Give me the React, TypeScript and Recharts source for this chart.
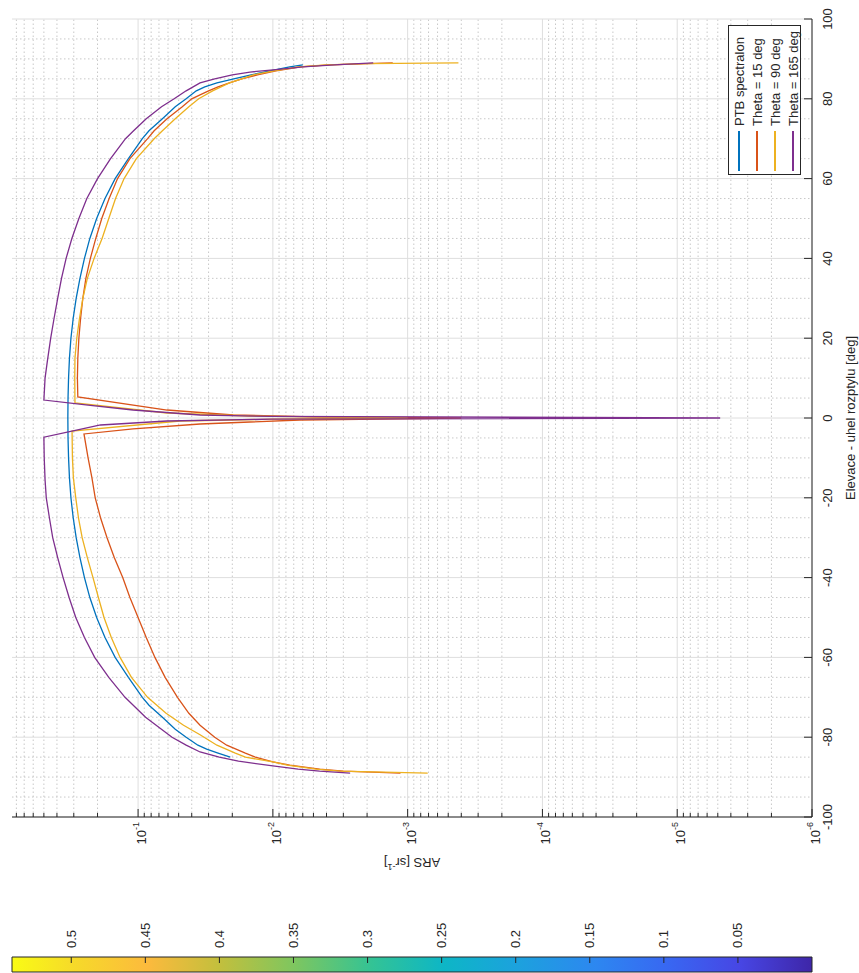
import React from 'react'
import {
  LineChart, Line, XAxis, YAxis, CartesianGrid, Legend, Label,
  ComposedChart, ReferenceArea,
} from 'recharts'

// elevation angle [deg] / ARS [1/sr] for every measured curve
const ptbAngles = [-85, -84, -83, -82, -80, -78, -75, -72, -70, -65, -60, -55, -50, -45, -40, -35, -30, -25, -20, -15, -10, -5, 0, 5, 10, 15, 20, 25, 30, 35, 40, 45, 50, 55, 60, 65, 70, 72, 75, 78, 80, 82, 83, 84, 85, 86, 87, 88, 88.5]
const ptbArs = [0.0207, 0.0255, 0.031, 0.036, 0.044, 0.053, 0.066, 0.083, 0.093, 0.118, 0.148, 0.176, 0.203, 0.228, 0.25, 0.27, 0.288, 0.303, 0.315, 0.323, 0.328, 0.331, 0.332, 0.331, 0.328, 0.323, 0.315, 0.303, 0.288, 0.27, 0.25, 0.228, 0.203, 0.176, 0.148, 0.118, 0.093, 0.083, 0.066, 0.053, 0.044, 0.037, 0.032, 0.026, 0.0195, 0.0145, 0.0105, 0.0075, 0.006]

const theta15Angles = [-89, -88.5, -88, -87, -86.2, -85, -84, -82, -80, -77, -74, -70, -65, -60, -55, -50, -45, -40, -35, -30, -25, -20, -15, -10, -4, -2.75, -1.5, -0.5, 0, 0.3, 0.75, 2, 5.3, 10, 15, 20, 25, 30, 35, 40, 45, 50, 55, 60, 65, 70, 72, 75, 78, 80, 81, 82, 83, 84, 85, 86, 87, 88, 88.5, 88.8, 89]
const theta15Ars = [0.00113, 0.003, 0.0045, 0.0075, 0.01, 0.0135, 0.016, 0.022, 0.027, 0.0347, 0.042, 0.051, 0.063, 0.075, 0.087, 0.1, 0.115, 0.13, 0.15, 0.17, 0.19, 0.208, 0.22, 0.235, 0.252, 0.109, 0.0347, 0.0063, 0.0004, 0.005, 0.0197, 0.061, 0.28, 0.282, 0.28, 0.275, 0.267, 0.257, 0.244, 0.226, 0.206, 0.186, 0.164, 0.142, 0.115, 0.085, 0.076, 0.061, 0.047, 0.04, 0.0347, 0.03, 0.0255, 0.021, 0.017, 0.013, 0.0095, 0.0062, 0.0038, 0.002, 0.00129]

const theta90Angles = [-89, -88.5, -88, -87, -86.2, -85, -84, -82, -79.4, -77, -74, -70, -65, -60, -55, -50, -45, -40, -35, -30, -25, -20, -15, -10, -3.3, -0.75, -0.3, 0, 0.5, 1.25, 3.8, 10, 15, 20, 25, 30, 35, 40, 45, 50, 55, 60, 65, 70, 72, 75, 78, 80, 82, 84, 85, 86, 87, 88, 88.5, 88.8, 89]
const theta90Ars = [0.00071, 0.0032, 0.0048, 0.0078, 0.01, 0.016, 0.019, 0.026, 0.0347, 0.046, 0.062, 0.085, 0.112, 0.136, 0.158, 0.179, 0.197, 0.216, 0.238, 0.26, 0.277, 0.29, 0.302, 0.307, 0.309, 0.049, 0.01, 0.001, 0.015, 0.061, 0.294, 0.295, 0.294, 0.285, 0.272, 0.257, 0.238, 0.212, 0.185, 0.165, 0.147, 0.127, 0.103, 0.076, 0.066, 0.053, 0.042, 0.0355, 0.028, 0.021, 0.017, 0.014, 0.0098, 0.0065, 0.004, 0.002, 0.00042]

const theta165Angles = [-89, -88.5, -88, -87.2, -86, -85, -83.7, -82, -80, -75, -70, -65, -60, -55, -50, -45, -40, -35, -30, -25, -20, -15.5, -10, -4.8, -3.3, -1.75, -0.75, -0.3, 0, 0.4, 0.75, 2, 3.25, 4.5, 10, 14.5, 20, 25, 30, 35, 40, 45, 50, 55, 60, 65, 70, 72, 75, 78, 80, 82, 84, 85, 86, 86.7, 87.3, 88, 88.5, 89]
const theta165Ars = [0.00267, 0.0045, 0.0065, 0.01, 0.018, 0.025, 0.0347, 0.044, 0.056, 0.088, 0.125, 0.165, 0.21, 0.25, 0.29, 0.325, 0.36, 0.395, 0.43, 0.455, 0.48, 0.49, 0.497, 0.5, 0.31, 0.19, 0.061, 0.0105, 0.0000048, 0.0105, 0.0347, 0.109, 0.235, 0.5, 0.49, 0.47, 0.445, 0.42, 0.395, 0.37, 0.342, 0.31, 0.275, 0.24, 0.2, 0.16, 0.124, 0.108, 0.087, 0.067, 0.054, 0.044, 0.0347, 0.027, 0.02, 0.0148, 0.0095, 0.006, 0.0035, 0.0018]

// axis ticks
const angleTicks = [-100, -80, -60, -40, -20, 0, 20, 40, 60, 80, 100]
const arsDecades = [1e-6, 1e-5, 1e-4, 1e-3, 1e-2, 1e-1]
const colorbarTicks = [0.05, 0.1, 0.15, 0.2, 0.25, 0.3, 0.35, 0.4, 0.45, 0.5]

const ARS_MAX = 0.862
const angleMinor: number[] = []
for (let a = -95; a <= 95; a += 5) if (a % 20 !== 0) angleMinor.push(a)
const arsMinor = arsDecades
  .flatMap(d => [2, 3, 4, 5, 6, 7, 8, 9].map(m => m * d))
  .filter(v => v < ARS_MAX)
const arsTicks = [...arsDecades, ...arsMinor].sort((a, b) => a - b)

const series = [
  { key: 'ptb', name: 'PTB spectralon', color: '#0072BD', angles: ptbAngles, ars: ptbArs },
  { key: 't15', name: 'Theta = 15 deg', color: '#D95319', angles: theta15Angles, ars: theta15Ars },
  { key: 't90', name: 'Theta = 90 deg', color: '#EDB120', angles: theta90Angles, ars: theta90Ars },
  { key: 't165', name: 'Theta = 165 deg', color: '#7E2F8E', angles: theta165Angles, ars: theta165Ars },
]

// parula colour map, low (0) to high (1)
const parulaStops: [number, string][] = [
  [0, '#3E26A8'], [0.09, '#4746E4'], [0.18, '#3867F2'], [0.27, '#2D87F0'],
  [0.37, '#1CA2DD'], [0.46, '#0DB6C6'], [0.55, '#33C395'], [0.65, '#80C65E'],
  [0.74, '#C2BF3D'], [0.83, '#FCBA3D'], [0.92, '#F6D92A'], [1, '#F9FB15'],
]

const AXIS = '#262626'
const FONT = '"Liberation Sans", Arial, Helvetica, sans-serif'
const W = 973
const H = 859

const AngleTick = ({ x, y, payload }: any) => (
  <g>
    <line x1={x} y1={y} x2={x} y2={y - 8} stroke={AXIS} />
    <text x={x} y={y + 20} textAnchor="middle" fontSize={13} fill={AXIS}>{payload.value}</text>
  </g>
)

const ArsTick = ({ x, y, payload }: any) => {
  const lg = Math.log10(payload.value)
  const exp = Math.round(lg)
  const major = Math.abs(lg - exp) < 1e-6
  return (
    <g>
      <line x1={x} y1={y} x2={x + (major ? 8 : 4)} y2={y} stroke={AXIS} />
      {major && (
        <text x={x - 5} y={y + 8} textAnchor="end" fontSize={13} fill={AXIS}>
          <tspan>10</tspan>
          <tspan dy={-7} fontSize={9}>{`${exp}`}</tspan>
        </text>
      )}
    </g>
  )
}

const ColorbarTick = ({ x, y, payload }: any) => (
  <g>
    <line x1={x} y1={y} x2={x - 6} y2={y} stroke={AXIS} />
    <text x={x + 9} y={y + 4.5} textAnchor="start" fontSize={13} fill={AXIS}>{payload.value}</text>
  </g>
)

const AngleTitle = ({ viewBox }: any) => (
  <text x={viewBox.x + viewBox.width / 2} y={viewBox.y + 43} textAnchor="middle" fontSize={13} fill={AXIS}>
    Elevace - uhel rozptylu [deg]
  </text>
)

const ArsTitle = ({ viewBox }: any) => {
  const cx = 115
  const cy = viewBox.y + viewBox.height / 2
  return (
    <text x={cx} y={cy} transform={`rotate(-90, ${cx}, ${cy})`} textAnchor="middle" fontSize={13} fill={AXIS}>
      <tspan>ARS [sr</tspan>
      <tspan dy={-6} fontSize={9}>-1</tspan>
      <tspan dy={6}>]</tspan>
    </text>
  )
}

// legend box in plotting order, each row a short line sample plus the name
const LegendBox = () => (
  <div style={{
    width: 150, height: 73, boxSizing: 'border-box', border: `1px solid ${AXIS}`,
    background: '#fff', paddingTop: 1, fontFamily: FONT,
  }}>
    {series.map(s => (
      <div key={s.key} style={{ display: 'flex', alignItems: 'center', height: 18 }}>
        <span style={{ display: 'inline-block', width: 40, height: 1.5, background: s.color, marginLeft: 3, marginRight: 5 }} />
        <span style={{ fontSize: 13, color: AXIS, whiteSpace: 'nowrap' }}>{s.name}</span>
      </div>
    ))}
  </div>
)

export default function App() {
  return (
    <div style={{ position: 'absolute', left: 0, top: 0, width: 859, height: 973, overflow: 'hidden', background: '#fff', fontFamily: FONT }}>
      {/* figure is laid out landscape and turned a quarter turn counter-clockwise */}
      <div style={{
        position: 'absolute', left: 0, top: 0, width: W, height: H,
        transformOrigin: '0 0', transform: `translate(0px, ${W}px) rotate(-90deg)`,
      }}>
        <div style={{ position: 'absolute', left: 0, top: 0 }}>
          <LineChart width={W} height={H} margin={{ top: 12, right: 19, bottom: 0, left: 0 }}>
            <CartesianGrid verticalValues={angleMinor} horizontalValues={arsMinor} stroke="#C8C8C8" strokeDasharray="1.5 2.5" />
            <CartesianGrid verticalValues={angleTicks} horizontalValues={arsDecades} stroke="#DEDEDE" />
            <XAxis
              dataKey="angle"
              type="number"
              domain={[-100, 100]}
              ticks={angleTicks}
              interval={0}
              allowDataOverflow
              height={47}
              tickSize={0}
              tickMargin={0}
              stroke={AXIS}
              tick={(p: any) => <AngleTick {...p} />}
            >
              <Label content={AngleTitle} />
            </XAxis>
            <YAxis
              type="number"
              scale="log"
              domain={[1e-6, ARS_MAX]}
              ticks={arsTicks}
              interval={0}
              allowDataOverflow
              width={156}
              tickSize={0}
              tickMargin={0}
              stroke={AXIS}
              tick={(p: any) => <ArsTick {...p} />}
            >
              <Label content={ArsTitle} />
            </YAxis>
            {series.map(s => (
              <Line
                key={s.key}
                data={s.angles.map((a, i) => ({ angle: a, ars: s.ars[i] }))}
                dataKey="ars"
                name={s.name}
                type="linear"
                stroke={s.color}
                strokeWidth={1.3}
                dot={false}
                activeDot={false}
                isAnimationActive={false}
              />
            ))}
            <Legend
              layout="horizontal"
              verticalAlign="middle"
              align="center"
              content={LegendBox}
              wrapperStyle={{ left: 798, top: 728, width: 150, height: 73 }}
            />
          </LineChart>
        </div>

        {/* colour scale strip along the left edge */}
        <div style={{ position: 'absolute', left: 0, top: 0 }}>
          <ComposedChart width={60} height={H} data={[{ x: 0 }, { x: 1 }]} margin={{ top: 12, right: 0, bottom: 47, left: 1 }}>
            <defs>
              <linearGradient id="parula" x1="0" y1="1" x2="0" y2="0">
                {parulaStops.map(([o, c]) => <stop key={o} offset={o} stopColor={c} />)}
              </linearGradient>
            </defs>
            <XAxis dataKey="x" type="number" domain={[0, 1]} hide />
            <YAxis
              type="number"
              orientation="right"
              domain={[0, 0.54]}
              ticks={colorbarTicks}
              interval={0}
              allowDataOverflow
              width={44}
              axisLine={false}
              tickSize={0}
              tickMargin={0}
              tick={(p: any) => <ColorbarTick {...p} />}
            />
            <ReferenceArea x1={0} x2={1} y1={0} y2={0.54} fill="url(#parula)" fillOpacity={1} stroke={AXIS} strokeWidth={1} ifOverflow="visible" />
          </ComposedChart>
        </div>
      </div>
    </div>
  )
}
